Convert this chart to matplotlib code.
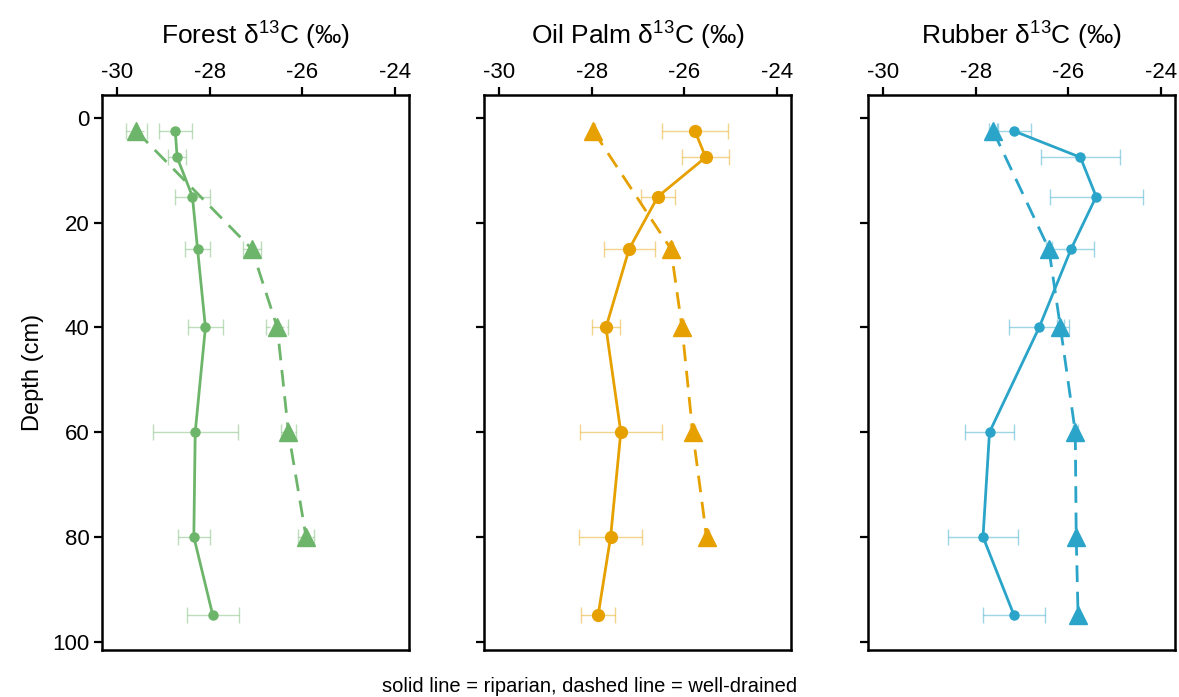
import matplotlib
matplotlib.use("Agg")
import matplotlib.pyplot as plt
from matplotlib import font_manager

# Depths of the sampled soil layers (cm)
depth_rip = [2.5, 7.5, 15, 25, 40, 60, 80, 95]
depth_wd_forest = [2.5, 25, 40, 60, 80]
depth_wd_oilpalm = [2.5, 25, 40, 60, 80]
depth_wd_rubber = [2.5, 25, 40, 60, 80, 95]

# Forest
forest_rip = [-28.74, -28.70, -28.37, -28.26, -28.09, -28.31, -28.34, -27.93]
forest_rip_se = [0.35, 0.19, 0.37, 0.27, 0.38, 0.92, 0.34, 0.56]
forest_wd = [-29.58, -27.09, -26.54, -26.30, -25.92]
forest_wd_se = [0.23, 0.19, 0.24, 0.16, 0.18]

# Oil palm
oilpalm_rip = [-25.77, -25.54, -26.57, -27.19, -27.69, -27.37, -27.59, -27.86]
oilpalm_rip_se = [0.72, 0.50, 0.36, 0.55, 0.30, 0.88, 0.68, 0.36]
oilpalm_wd = [-27.96, -26.29, -26.05, -25.82, -25.52]
oilpalm_wd_se = [0.04, 0.05, 0.05, 0.05, 0.05]

# Rubber
rubber_rip = [-27.17, -25.74, -25.40, -25.94, -26.63, -27.70, -27.84, -27.17]
rubber_rip_se = [0.36, 0.85, 1.00, 0.50, 0.65, 0.52, 0.76, 0.66]
rubber_wd = [-27.62, -26.42, -26.17, -25.85, -25.83, -25.79]
rubber_wd_se = [0.10, 0.07, 0.07, 0.05, 0.02, 0.02]

titles = ["Forest", "Oil Palm", "Rubber"]
x_ticks = [-30, -28, -26, -24]
y_ticks = [0, 20, 40, 60, 80, 100]

colors = ["#6DB56A", "#E6A000", "#2AA4C8"]

panels = [
    (forest_rip, forest_rip_se, depth_wd_forest, forest_wd, forest_wd_se),
    (oilpalm_rip, oilpalm_rip_se, depth_wd_oilpalm, oilpalm_wd, oilpalm_wd_se),
    (rubber_rip, rubber_rip_se, depth_wd_rubber, rubber_wd, rubber_wd_se),
]

names = {f.name for f in font_manager.fontManager.ttflist}
narrow = "Liberation Sans Narrow" if "Liberation Sans Narrow" in names else "Liberation Sans"
plt.rcParams["font.family"] = ["Liberation Sans", "DejaVu Sans"]
plt.rcParams["mathtext.fontset"] = "custom"
plt.rcParams["mathtext.rm"] = narrow
plt.rcParams["mathtext.it"] = narrow

fig = plt.figure(figsize=(11.79, 6.97), dpi=100)
W = 1179.0
H = 697.0
lefts = [102 / W, 484 / W, 868 / W]
bottom = 1 - 650 / H
height = (650 - 95) / H
width = 307 / W

rip_ms = [6.5, 8.5, 6.5]

for i, (rip, rip_se, dwd, wd, wd_se) in enumerate(panels):
    ax = fig.add_axes([lefts[i], bottom, width, height])
    c = colors[i]
    # error bars
    ax.errorbar(rip, depth_rip, xerr=rip_se, fmt="none", ecolor=c, alpha=0.45,
                elinewidth=1.0, capsize=5.5, capthick=1.0, zorder=2)
    eb = ax.errorbar(wd, dwd, xerr=wd_se, fmt="none", ecolor=c, alpha=0.45,
                     elinewidth=1.0, capsize=5.5, capthick=1.0, zorder=2)
    for coll in eb[2]:
        coll.set_linestyle((0, (3, 2)))
    # riparian: solid line with circles
    ax.plot(rip, depth_rip, color=c, lw=2.0, marker="o", ms=rip_ms[i],
            zorder=3, solid_joinstyle="round")
    # well-drained: dashed line with triangles
    ax.plot(wd, dwd, color=c, lw=2.0, ls=(0, (6, 3.5)), marker="^", ms=12.5,
            zorder=3)

    ax.set_xlim(-30.32, -23.70)
    ax.set_ylim(101.6, -4.4)
    ax.xaxis.tick_top()
    ax.xaxis.set_label_position("top")
    ax.set_xticks(x_ticks)
    ax.set_xticklabels([str(t) for t in x_ticks], fontfamily=narrow, fontsize=17)
    ax.set_yticks(y_ticks)
    ax.tick_params(axis="both", direction="out", length=6, width=1.6,
                   colors="black", labelsize=16, pad=3)
    if i == 0:
        ax.set_yticklabels([str(t) for t in y_ticks])
        ax.set_ylabel("Depth (cm)", fontsize=17, labelpad=6)
    else:
        ax.set_yticklabels([])
    for sp in ax.spines.values():
        sp.set_linewidth(1.8)
        sp.set_color("black")
    ax.set_title(titles[i] + " δ$^{\\mathrm{13}}$C (‰)", fontfamily=narrow,
                 fontsize=19, pad=12)

fig.text(0.5, 1 - 686 / H, "solid line = riparian, dashed line = well-drained",
         ha="center", va="center", fontsize=14.5)

fig.savefig("out.png", dpi=100)
